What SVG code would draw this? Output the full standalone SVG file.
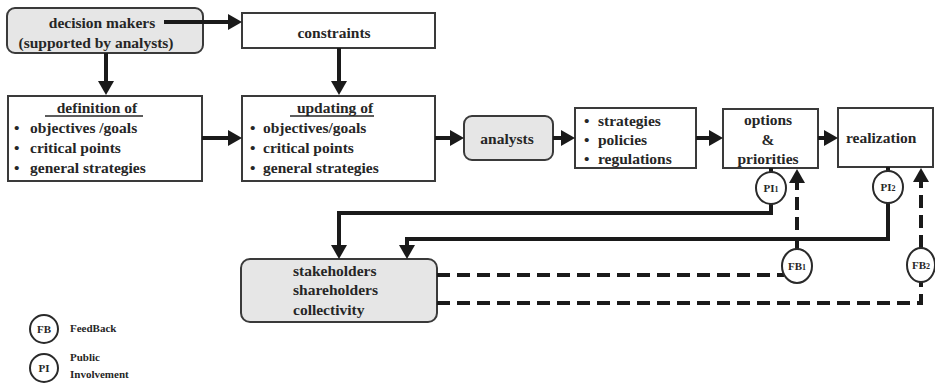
<svg xmlns="http://www.w3.org/2000/svg" width="935" height="383" viewBox="0 0 935 383" font-family="Liberation Serif, serif">
<style>
.box{fill:#fff;stroke:#3a3a3a;stroke-width:2}
.gbox{fill:#e6e6e6;stroke:#3a3a3a;stroke-width:2}
.t{font-family:'Liberation Serif',serif;font-weight:bold;font-size:15.5px;fill:#262626}
.c{text-anchor:middle}
.s{font-family:'Liberation Serif',serif;font-weight:bold;font-size:11px;fill:#262626}
.ln{fill:none;stroke:#1a1a1a;stroke-width:4}
.dash{fill:none;stroke:#1a1a1a;stroke-width:4;stroke-dasharray:13 7}
.circ{fill:#fff;stroke:#2a2a2a;stroke-width:2}
.ul{stroke:#262626;stroke-width:1.3}
</style>
<defs>
<marker id="ah" markerUnits="userSpaceOnUse" markerWidth="16" markerHeight="18" refX="0" refY="8" orient="auto">
<path d="M0,0 L14,8 L0,16 Z" fill="#1a1a1a"/>
</marker>
</defs>

<g id="decision-makers">
<rect class="gbox" x="7" y="8" width="196" height="45" rx="8"/>
<text class="t c" x="102" y="28">decision makers</text>
<text class="t c" x="96" y="48">(supported by analysts)</text>
</g>

<g id="constraints">
<rect class="box" x="242" y="13" width="193" height="35"/>
<text class="t c" x="334" y="38">constraints</text>
</g>

<g id="definition">
<rect class="box" x="8" y="96" width="194" height="85"/>
<text class="t c" x="97" y="113">definition of</text>
<line class="ul" x1="45" y1="116" x2="143" y2="116"/>
<text class="t" x="14" y="133">•</text>
<text class="t" x="30" y="133">objectives /goals</text>
<text class="t" x="14" y="153">•</text>
<text class="t" x="30" y="153">critical points</text>
<text class="t" x="14" y="173">•</text>
<text class="t" x="30" y="173">general strategies</text>
</g>

<g id="updating">
<rect class="box" x="242" y="96" width="193" height="85"/>
<text class="t c" x="335" y="113">updating of</text>
<line class="ul" x1="290" y1="116" x2="374" y2="116"/>
<text class="t" x="250" y="133">•</text>
<text class="t" x="263" y="133">objectives/goals</text>
<text class="t" x="250" y="153">•</text>
<text class="t" x="263" y="153">critical points</text>
<text class="t" x="250" y="173">•</text>
<text class="t" x="263" y="173">general strategies</text>
</g>

<g id="analysts">
<rect class="gbox" x="464" y="116" width="89" height="44" rx="8"/>
<text class="t c" x="507" y="144">analysts</text>
</g>

<g id="strategies">
<rect class="box" x="575" y="108" width="121" height="60"/>
<text class="t" x="584" y="126">•</text>
<text class="t" x="598" y="126">strategies</text>
<text class="t" x="584" y="145">•</text>
<text class="t" x="598" y="145">policies</text>
<text class="t" x="584" y="164">•</text>
<text class="t" x="598" y="164">regulations</text>
</g>

<g id="options">
<rect class="box" x="723" y="109" width="95" height="59"/>
<text class="t c" x="768" y="125">options</text>
<text class="t c" x="768" y="145">&amp;</text>
<text class="t c" x="768" y="164">priorities</text>
</g>

<g id="realization">
<rect class="box" x="838" y="108" width="95" height="59"/>
<text class="t" x="846" y="143">realization</text>
</g>

<g id="stakeholders">
<rect class="gbox" x="241" y="259" width="196" height="63" rx="9"/>
<text class="t" x="293" y="276">stakeholders</text>
<text class="t" x="293" y="295">shareholders</text>
<text class="t" x="293" y="315">collectivity</text>
</g>

<g id="connectors">
<path class="ln" d="M164 22 H228" marker-end="url(#ah)"/>
<path class="ln" d="M106 53 V81" marker-end="url(#ah)"/>
<path class="ln" d="M339 48 V81" marker-end="url(#ah)"/>
<path class="ln" d="M202 138 H228" marker-end="url(#ah)"/>
<path class="ln" d="M435 138 H450" marker-end="url(#ah)"/>
<path class="ln" d="M553 138 H561" marker-end="url(#ah)"/>
<path class="ln" d="M696 138 H709" marker-end="url(#ah)"/>
<path class="ln" d="M818 138 H824" marker-end="url(#ah)"/>
<path class="ln" d="M771 168 V174"/>
<path class="ln" d="M771 202 V213 H339 V245" marker-end="url(#ah)"/>
<path class="ln" d="M888 167 V172"/>
<path class="ln" d="M888 201 V239 H407 V245" marker-end="url(#ah)"/>
<path class="dash" d="M797 250 V183" marker-end="url(#ah)"/>
<path class="dash" d="M437 275 H784"/>
<path class="dash" d="M921 248 V182" marker-end="url(#ah)"/>
<path class="dash" d="M437 303 H921 V282"/>
</g>

<g id="PI1">
<ellipse class="circ" cx="771" cy="188" rx="15" ry="16"/>
<text class="s c" x="771" y="192">PI<tspan font-size="8">1</tspan></text>
</g>
<g id="PI2">
<ellipse class="circ" cx="888" cy="187" rx="15" ry="16"/>
<text class="s c" x="888" y="191">PI<tspan font-size="8">2</tspan></text>
</g>
<g id="FB1">
<ellipse class="circ" cx="797" cy="266" rx="15" ry="17"/>
<text class="s c" x="797" y="270">FB<tspan font-size="8">1</tspan></text>
</g>
<g id="FB2">
<ellipse class="circ" cx="921" cy="265" rx="14" ry="17"/>
<text class="s c" x="921" y="269">FB<tspan font-size="8">2</tspan></text>
</g>

<g id="legend">
<circle class="circ" cx="44" cy="329" r="14"/>
<text class="s c" x="44" y="333">FB</text>
<text class="s" x="70" y="332">FeedBack</text>
<circle class="circ" cx="44" cy="368" r="14"/>
<text class="s c" x="44" y="372">PI</text>
<text class="s" x="70" y="361">Public</text>
<text class="s" x="70" y="378">Involvement</text>
</g>
</svg>
